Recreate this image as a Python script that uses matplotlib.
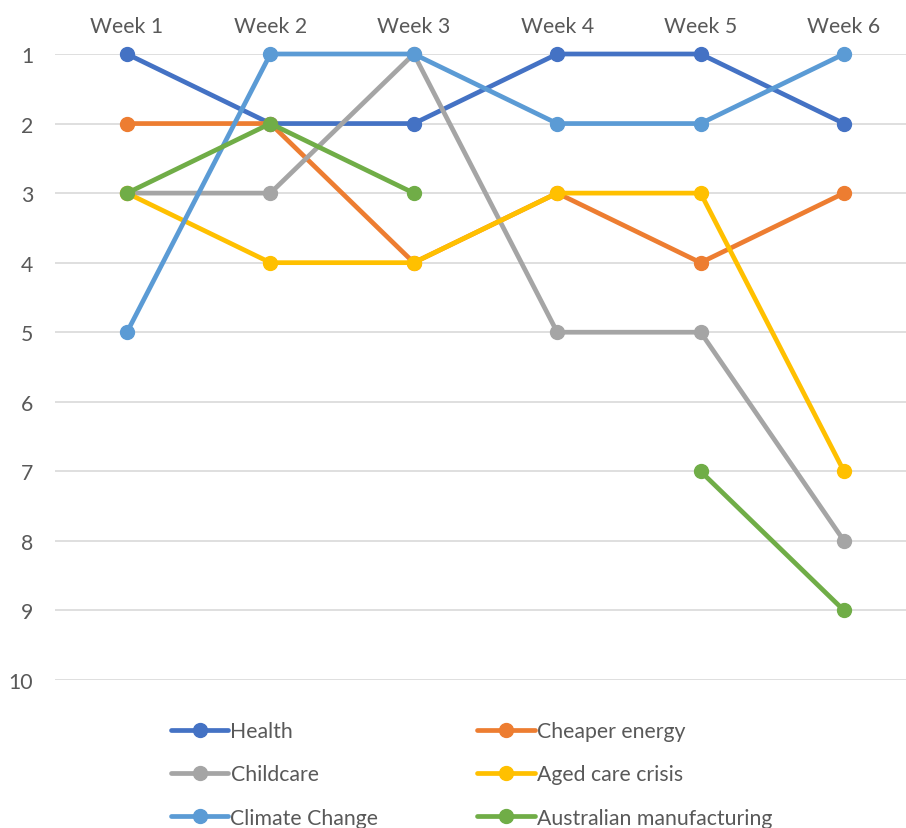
import matplotlib.pyplot as plt
import numpy as np

WEEKS = ['Week 1', 'Week 2', 'Week 3', 'Week 4', 'Week 5', 'Week 6']
SERIES = ['Health', 'Cheaper energy', 'Childcare', 'Aged care crisis',
          'Climate Change', 'Australian manufacturing']
HEALTH = [1, 2, 2, 1, 1, 2]
ENERGY = [2, 2, 4, 3, 4, 3]
CHILDCARE = [3, 3, 1, 5, 5, 8]
AGED_CARE = [3, 4, 4, 3, 3, 7]
CLIMATE = [5, 1, 1, 2, 2, 1]
MANUFACTURING = [3, 2, 3, np.nan, 7, 9]
RANKS = list(range(1, 11))

COLORS = ['#4472C4', '#ED7D31', '#A5A5A5', '#FFC000', '#5B9BD5', '#70AD47']
TEXTCOLOR = '#595959'
TEXTSIZE = 15.3

plt.rcParams['font.family'] = ['Lato', 'DejaVu Sans']

fig = plt.figure(figsize=[9.06, 8.29], dpi=100)
W, H = 906.0, 829.0
ax = fig.add_axes([55.3 / W, 1 - 681 / H, 860.4 / W, 626 / H])

x = np.arange(len(WEEKS))
handles = []
for name, vals, col in zip(SERIES, [HEALTH, ENERGY, CHILDCARE, AGED_CARE, CLIMATE, MANUFACTURING], COLORS):
    h, = ax.plot(x, vals, color=col, lw=3.4, marker='o', ms=10, label=name,
                 clip_on=False, solid_capstyle='round')
    handles.append(h)

ax.set_xlim(-0.5, 5.5)
ax.set_ylim(10, 1)
ax.set_yticks(RANKS)
ax.set_yticklabels([str(r) for r in RANKS])
ax.set_xticks(x)
ax.set_xticklabels(WEEKS)
ax.xaxis.tick_top()
ax.tick_params(axis='both', length=0, labelsize=TEXTSIZE, labelcolor=TEXTCOLOR)
ax.tick_params(axis='y', pad=16)
ax.tick_params(axis='x', pad=13)
ax.yaxis.grid(True, color='#D9D9D9', lw=1.2)
ax.set_axisbelow(True)
for s in ax.spines.values():
    s.set_visible(False)

order = [0, 2, 4, 1, 3, 5]
fig.legend([handles[i] for i in order], [SERIES[i] for i in order],
           ncol=2, loc='upper left', bbox_to_anchor=(171 / W, 1 - 722 / H),
           frameon=False, fontsize=TEXTSIZE, labelcolor=TEXTCOLOR,
           handlelength=2.7, handletextpad=0.1, columnspacing=4.65,
           labelspacing=1.1, borderaxespad=0, borderpad=0)

fig.savefig('out.png', dpi=100)
